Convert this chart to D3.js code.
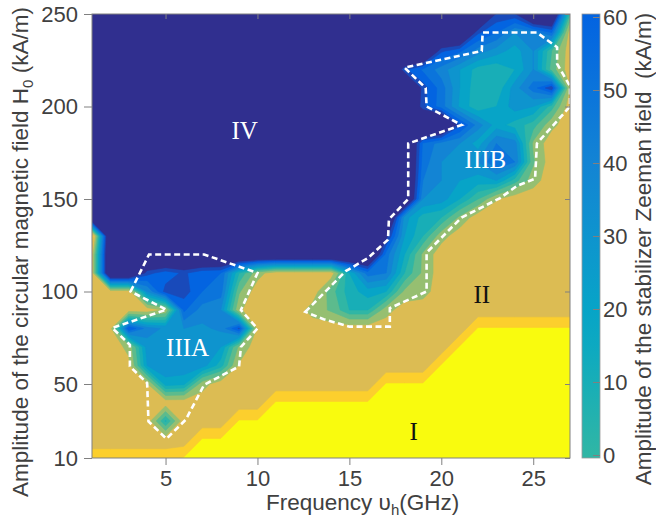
<!doctype html>
<html>

<head>
  <meta charset="utf-8">
  <title>stabilizer Zeeman field map</title>
  <style>
    body {
      margin: 0;
      background: #fff;
    }

    svg {
      display: block;
      font-family: "Liberation Sans", Arial, sans-serif;
    }

    .tick text {
      fill: #404040;
      font-size: 22px;
    }

    .tick line {
      stroke: #808080;
    }

    .title {
      fill: #404040;
      font-size: 22.5px;
    }

    .region {
      font-family: "Liberation Serif", "Times New Roman", serif;
      font-size: 25px;
    }
  </style>
</head>

<body>
  <svg id="chart" width="656" height="517"></svg>
  <script src="https://d3js.org/d3.v7.min.js"></script>
  <script>
    // grid of the map: one column per GHz, one row per 10 kA/m (top row = 250)
    const freqs = [1, 2, 3, 4, 5, 6, 7, 8, 9, 10, 11, 12, 13, 14, 15, 16, 17, 18, 19, 20, 21, 22, 23, 24, 25, 26, 27];
    const fields = [250, 240, 230, 220, 210, 200, 190, 180, 170, 160, 150, 140, 130, 120, 110, 100, 90, 80, 70, 60, 50, 40, 30, 20, 10];

    // codes of the regions without a stabilizer field, numbers are the amplitude (kA/m) in IIIA / IIIB
    const N = 120; // IV
    const G = -35; // II
    const Y = -70; // I
    const O = -61; // I / II border band

    const zeeman = [
      [N, N, N, N, N, N, N, N, N, N, N, N, N, N, N, N, N, N, N, N, N, N, 78, 78, N, N, 0],
      [N, N, N, N, N, N, N, N, N, N, N, N, N, N, N, N, N, N, N, N, N, 72, 60, 40, 45, 60, G],
      [N, N, N, N, N, N, N, N, N, N, N, N, N, N, N, N, N, N, N, 72, 62, 45, 35, 25, 40, 0, G],
      [N, N, N, N, N, N, N, N, N, N, N, N, N, N, N, N, N, 72, 58, 45, 30, 15, 12, 20, 40, -5, G],
      [N, N, N, N, N, N, N, N, N, N, N, N, N, N, N, N, N, N, 75, 55, 30, 12, 12, 35, 55, 78, -28],
      [N, N, N, N, N, N, N, N, N, N, N, N, N, N, N, N, N, N, 72, 55, 28, 12, 20, 35, 30, 5, G],
      [N, N, N, N, N, N, N, N, N, N, N, N, N, N, N, N, N, N, N, N, 72, 45, 25, 15, 5, -22, G],
      [N, N, N, N, N, N, N, N, N, N, N, N, N, N, N, N, N, N, 58, 45, 40, 25, 50, 45, -15, G, G],
      [N, N, N, N, N, N, N, N, N, N, N, N, N, N, N, N, N, N, 55, 40, 30, 40, 60, 50, -10, G, G],
      [N, N, N, N, N, N, N, N, N, N, N, N, N, N, N, N, N, N, 50, 40, 30, 25, 30, 5, -20, G, G],
      [N, N, N, N, N, N, N, N, N, N, N, N, N, N, N, N, N, N, 40, 35, 20, 0, -25, G, G, G, G],
      [N, N, N, N, N, N, N, N, N, N, N, N, N, N, N, N, N, 35, 15, 10, -15, G, G, G, G, G, G],
      [O, N, N, N, N, N, N, N, N, N, N, N, N, N, N, N, 85, 30, 10, -20, G, G, G, G, G, G, G],
      [G, N, N, N, N, N, N, N, N, N, N, N, N, N, N, N, 55, 20, -15, G, G, G, G, G, G, G, G],
      [G, N, N, 74, 64, 72, 62, 60, 10, -20, G, G, G, G, 20, 55, 50, 10, -15, G, G, G, G, G, G, G, G],
      [G, G, G, 40, 74, 75, 60, 55, -10, G, G, G, G, -5, 15, 25, 20, -15, -20, G, G, G, G, G, G, G, G],
      [G, G, G, G, -24, 62, 45, 40, -24, G, G, G, -20, -10, 10, 10, -20, G, G, G, G, G, G, G, G, G, G],
      [G, -32, 70, 45, 38, 40, 38, 42, 72, -30, G, G, G, G, G, G, G, G, G, G, G, Y, Y, Y, Y, Y, Y],
      [G, G, -22, 35, 35, 35, 35, 30, -15, G, G, G, G, G, G, G, G, G, G, G, Y, Y, Y, Y, Y, Y, Y],
      [G, G, -30, 30, 38, 38, 35, 15, -28, G, G, G, G, G, G, G, G, G, G, Y, Y, Y, Y, Y, Y, Y, Y],
      [G, G, G, -28, 25, 22, -20, G, G, G, G, G, G, G, G, G, Y, Y, Y, Y, Y, Y, Y, Y, Y, Y, Y],
      [G, G, G, G, G, G, G, G, G, G, Y, Y, Y, Y, Y, Y, Y, Y, Y, Y, Y, Y, Y, Y, Y, Y, Y],
      [G, G, G, G, 12, G, G, G, Y, Y, Y, Y, Y, Y, Y, Y, Y, Y, Y, Y, Y, Y, Y, Y, Y, Y, Y],
      [G, G, G, G, G, G, Y, Y, Y, Y, Y, Y, Y, Y, Y, Y, Y, Y, Y, Y, Y, Y, Y, Y, Y, Y, Y],
      [O, O, O, O, O, Y, Y, Y, Y, Y, Y, Y, Y, Y, Y, Y, Y, Y, Y, Y, Y, Y, Y, Y, Y, Y, Y]
    ];

    // contour levels, in the same units
    const levels = [-100, -68, -48, -26, -12, 0, 10, 20, 30, 40, 50, 60, 70, 80];

    const xTicks = [5, 10, 15, 20, 25];
    const yTicks = [10, 50, 100, 150, 200, 250];
    const barTicks = [0, 10, 20, 30, 40, 50, 60];

    // dashed outlines of the IIIA and IIIB regions [GHz, kA/m]
    const outlineIIIA = [[3.1, 100], [4.1, 120], [7.1, 120], [10, 110], [9.1, 90], [10, 80], [9.1, 70], [9, 59.5],
      [7.1, 49.6], [6.1, 30.7], [5.05, 20.4], [4.07, 29.8], [4, 50.5], [3.06, 59.5], [3.06, 71.2], [2.1, 80.3], [5.05, 90.2]];
    const outlineIIIB = [[12.6, 89], [14.8, 111], [16, 118], [17.1, 128], [17.15, 139], [18.2, 150], [18.2, 180], [21.1, 190],
      [19.2, 200], [19.15, 210], [18, 221], [22.2, 230], [22.25, 240], [25.2, 240], [26.3, 232], [26.3, 223], [27, 211],
      [27, 200], [25.2, 180], [25.1, 161], [24.1, 157], [23.2, 150.5], [21.1, 140], [19.2, 121], [19.2, 100], [17.2, 91],
      [17.2, 81], [15, 81], [13.6, 85]];

    const regionLabels = [
      { text: 'IV', x: 9.3, y: 182.6, fill: '#fff' },
      { text: 'IIIA', x: 6.2, y: 64.9, fill: '#fff' },
      { text: 'IIIB', x: 22.4, y: 166.9, fill: '#fff' },
      { text: 'II', x: 22.2, y: 93.9, fill: '#111' },
      { text: 'I', x: 18.5, y: 19.9, fill: '#111' }
    ];

    const svg = d3.select('#chart');
    const plot = { left: 92, right: 570, top: 14, bottom: 458 };

    const x = d3.scaleLinear().domain([1, 27]).range([plot.left, plot.right]);
    const y = d3.scaleLinear().domain([10, 250]).range([plot.bottom, plot.top]);

    // parula colour map
    const parula = d3.scaleLinear()
      .domain([0, 0.125, 0.25, 0.375, 0.5, 0.625, 0.75, 0.875, 1])
      .range(['#352a87', '#0363e1', '#1485d4', '#06a7c6', '#38b99e', '#92bf73', '#d9ba56', '#fcce2e', '#f9fb0e']);
    const toT = d3.scaleLinear().domain([82, -89]).range([0, 1]).clamp(true);
    const color = v => parula(toT(v));

    svg.append('defs').append('clipPath').attr('id', 'plot-clip')
      .append('rect')
      .attr('x', plot.left).attr('y', plot.top)
      .attr('width', plot.right - plot.left).attr('height', plot.bottom - plot.top);

    // filled contours
    const n = freqs.length;
    const m = fields.length;
    const contours = d3.contours().size([n, m]).thresholds(levels)(zeeman.flat());

    const gx = d3.scaleLinear().domain([0.5, n - 0.5]).range([x(freqs[0]), x(freqs[n - 1])]);
    const gy = d3.scaleLinear().domain([0.5, m - 0.5]).range([y(fields[0]), y(fields[m - 1])]);
    const path = d3.geoPath(d3.geoTransform({
      point(px, py) {
        this.stream.point(gx(px), gy(py));
      }
    }));

    svg.append('g').attr('clip-path', 'url(#plot-clip)')
      .selectAll('path')
      .data(contours)
      .join('path')
      .attr('d', path)
      .attr('fill', d => color(d.value))
      .attr('stroke', d => color(d.value))
      .attr('stroke-width', 0.6);

    // dashed outlines
    const line = d3.line().x(d => x(d[0])).y(d => y(d[1])).curve(d3.curveLinearClosed);
    svg.append('g')
      .selectAll('path')
      .data([outlineIIIA, outlineIIIB])
      .join('path')
      .attr('d', line)
      .attr('fill', 'none')
      .attr('stroke', '#fff')
      .attr('stroke-width', 2.6)
      .attr('stroke-dasharray', '6,3.5');

    // region names
    svg.append('g')
      .selectAll('text')
      .data(regionLabels)
      .join('text')
      .attr('class', 'region')
      .attr('x', d => x(d.x))
      .attr('y', d => y(d.y))
      .attr('text-anchor', 'middle')
      .attr('fill', d => d.fill)
      .text(d => d.text);

    // axes
    const noDomain = g => g.select('.domain').remove();
    svg.append('g').attr('transform', `translate(0,${plot.bottom})`)
      .call(d3.axisBottom(x).tickValues(xTicks).tickSize(7).tickPadding(5))
      .call(noDomain);
    svg.append('g').attr('transform', `translate(0,${plot.top})`)
      .call(d3.axisTop(x).tickValues(xTicks).tickSize(-5).tickFormat(''))
      .call(noDomain);
    svg.append('g').attr('transform', `translate(${plot.left},0)`)
      .call(d3.axisLeft(y).tickValues(yTicks).tickSize(8).tickPadding(6))
      .call(noDomain);
    svg.append('g').attr('transform', `translate(${plot.right},0)`)
      .call(d3.axisRight(y).tickValues(yTicks).tickSize(-5).tickFormat(''))
      .call(noDomain);

    svg.append('rect')
      .attr('x', plot.left).attr('y', plot.top)
      .attr('width', plot.right - plot.left).attr('height', plot.bottom - plot.top)
      .attr('fill', 'none').attr('stroke', '#808080').attr('stroke-width', 1);

    // colour bar
    const bar = { left: 582, right: 600, top: 14, bottom: 458 };
    const cy = d3.scaleLinear().domain([0, 60]).range([455, 17]);
    const grad = svg.select('defs').append('linearGradient')
      .attr('id', 'bar-grad').attr('x1', 0).attr('x2', 0).attr('y1', 1).attr('y2', 0);
    grad.selectAll('stop')
      .data(d3.range(0, 61, 5))
      .join('stop')
      .attr('offset', v => (bar.bottom - cy(v)) / (bar.bottom - bar.top))
      .attr('stop-color', v => color(v));
    svg.append('rect')
      .attr('x', bar.left).attr('y', bar.top)
      .attr('width', bar.right - bar.left).attr('height', bar.bottom - bar.top)
      .attr('fill', 'url(#bar-grad)')
      .attr('stroke', '#9a9a9a').attr('stroke-width', 0.8);
    svg.append('g').attr('transform', `translate(${bar.right},0)`)
      .call(d3.axisRight(cy).tickValues(barTicks).tickSize(-7).tickPadding(3))
      .call(noDomain);

    // titles
    const xTitle = svg.append('text').attr('class', 'title')
      .attr('x', 266).attr('y', 510);
    xTitle.append('tspan').text('Frequency υ');
    xTitle.append('tspan').attr('font-size', 15).attr('dy', 5).text('h');
    xTitle.append('tspan').attr('dy', -5).text('(GHz)');

    const yTitle = svg.append('text').attr('class', 'title')
      .attr('transform', 'translate(28,252) rotate(-90)')
      .attr('text-anchor', 'middle');
    yTitle.append('tspan').text('Amplitude of the circular magnetic field H');
    yTitle.append('tspan').attr('font-size', 15).attr('dy', 5).text('0');
    yTitle.append('tspan').attr('dy', -5).text(' (kA/m)');

    svg.append('text').attr('class', 'title')
      .attr('transform', 'translate(651,249) rotate(-90)')
      .attr('text-anchor', 'middle')
      .attr('xml:space', 'preserve')
      .text('Amplitude of the stabilizer Zeeman field  (kA/m)');
  </script>
</body>

</html>
